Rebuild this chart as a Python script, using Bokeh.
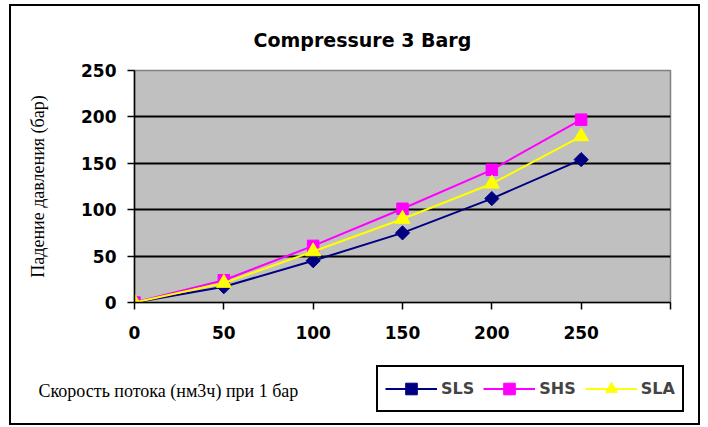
import math
from bokeh.plotting import figure
from bokeh.layouts import column, row
from bokeh.models import Legend, LegendItem, Label, FixedTicker, Range1d
from bokeh.embed import file_html
from bokeh.resources import INLINE

# ---- data ----
x_vals = [0, 50, 100, 150, 200, 250]
sls = [0, 17, 45, 75, 112, 154]
shs = [0, 24, 61, 101, 143, 197]
sla = [0, 21, 55, 90, 128, 179]
x_ticks = [0, 50, 100, 150, 200, 250, 300]
y_ticks = [0, 50, 100, 150, 200, 250]
grid_ticks = [50, 100, 150, 200]
series_names = ["SLS", "SHS", "SLA"]
title_text = "Compressure 3 Barg"
y_label = "Падение давления (бар)"
x_label = "Скорость потока (нм3ч) при 1 бар"

BOLD_FONT = "DejaVu Sans"
SERIF = "Liberation Serif"
colors = ["#000080", "#FF00FF", "#FFFF00"]
values = [sls, shs, sla]
markers = [("square", math.pi / 4, 10), ("square", 0, 11.5), ("triangle", 0, 15)]

W = 687
p = figure(width=W, height=344, output_backend="svg", toolbar_location=None,
           x_range=Range1d(0, 300), y_range=Range1d(0, 250),
           min_border_left=123, min_border_right=28,
           min_border_top=64, min_border_bottom=48)
p.background_fill_color = "#C0C0C0"
p.border_fill_color = "white"
p.outline_line_color = "#808080"
p.outline_line_width = 1.5

# title
p.title.text = title_text
p.title.align = "left"
p.title.offset = 119
p.title.standoff = 39
p.title.text_font = BOLD_FONT
p.title.text_font_style = "bold"
p.title.text_font_size = "19px"
p.title.text_color = "black"

# axes
for ax in (p.xaxis[0], p.yaxis[0]):
    ax.axis_line_color = "black"
    ax.axis_line_width = 1.5
    ax.major_tick_line_color = "black"
    ax.major_tick_line_width = 1.5
    ax.major_tick_in = 0
    ax.major_tick_out = 7
    ax.minor_tick_line_color = None
    ax.major_label_text_font = BOLD_FONT
    ax.major_label_text_font_style = "bold"
    ax.major_label_text_font_size = "17px"
    ax.major_label_text_color = "black"

p.xaxis.ticker = FixedTicker(ticks=x_ticks)
p.xaxis.major_label_overrides = {300: ""}
p.xaxis.major_label_standoff = 16
p.yaxis.ticker = FixedTicker(ticks=y_ticks)
p.yaxis.major_label_standoff = 11
p.yaxis.axis_label = y_label
p.yaxis.axis_label_standoff = 30
p.yaxis.axis_label_text_font = SERIF
p.yaxis.axis_label_text_font_style = "normal"
p.yaxis.axis_label_text_font_size = "18px"
p.yaxis.axis_label_text_color = "black"

p.xgrid.visible = False
p.ygrid.ticker = FixedTicker(ticks=grid_ticks)
p.ygrid.grid_line_color = "black"
p.ygrid.grid_line_width = 2

for col, vals, (mk, ang, sz) in zip(colors, values, markers):
    p.line(x_vals, vals, line_color=col, line_width=2)
    p.scatter(x_vals, vals, marker=mk, angle=ang, size=sz,
              fill_color=col, line_color=col)

# ---- bottom strip: axis title and legend (series kept off its view) ----
p2 = figure(width=W, height=73, output_backend="svg", toolbar_location=None,
            x_range=Range1d(1000, 1001), y_range=Range1d(1000, 1001),
            x_axis_location=None, y_axis_location=None,
            min_border_left=0, min_border_right=0, min_border_top=0, min_border_bottom=0)
for fig in (p, p2):
    if "frame_align" in fig.properties():
        fig.frame_align = False
p2.outline_line_color = None
p2.background_fill_color = "white"
p2.border_fill_color = "white"
p2.grid.visible = False

items = []
for name, col, vals, (mk, ang, sz) in zip(series_names, colors, values, markers):
    rl = p2.line(x_vals, vals, line_color=col, line_width=2)
    rm = p2.scatter(x_vals, vals, marker=mk, angle=ang, size=sz,
                    fill_color=col, line_color=col)
    items.append(LegendItem(label=name, renderers=[rl, rm]))

legend = Legend(items=items, orientation="horizontal", location=(365, 11))
legend.background_fill_color = "white"
legend.background_fill_alpha = 1
legend.border_line_color = "black"
legend.border_line_alpha = 1
legend.border_line_width = 2
legend.label_text_font = BOLD_FONT
legend.label_text_font_style = "bold"
legend.label_text_font_size = "16px"
legend.glyph_width = 52
legend.glyph_height = 29
legend.label_standoff = 4
legend.spacing = 9
legend.padding = 7
legend.margin = 0
p2.add_layout(legend)

p2.add_layout(Label(x=27, y=33, x_units="screen", y_units="screen",
                    text=x_label, text_align="left", text_baseline="middle",
                    text_font=SERIF, text_font_size="18px", text_color="black"))

lay = column(p, row(p2), spacing=0)
lay.styles = {"border": "2px solid black", "margin-left": "9px", "margin-top": "4px"}

open("out.html", "w").write(file_html(lay, INLINE))
